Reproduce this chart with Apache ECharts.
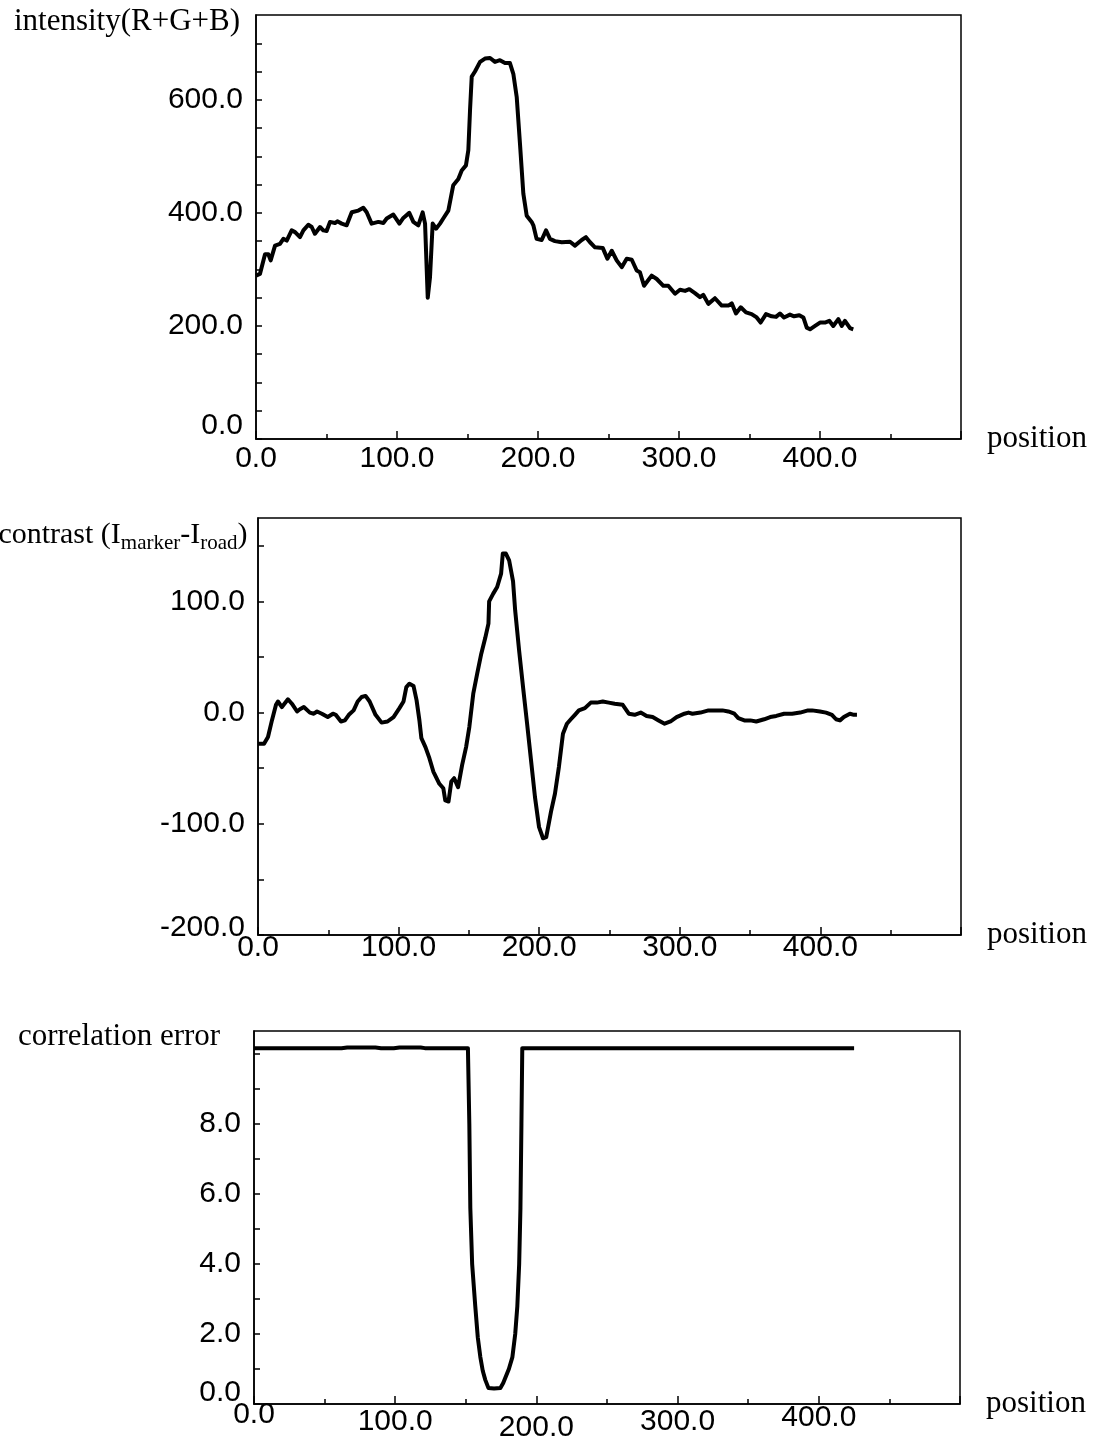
<!DOCTYPE html>
<html>
<head>
<meta charset="utf-8">
<script src="https://cdn.jsdelivr.net/npm/echarts@6/dist/echarts.min.js"></script>
<style>
  html, body { margin: 0; padding: 0; background: #fff; }
  #chart { width: 1097px; height: 1442px; }
</style>
</head>
<body>
<div id="chart"></div>
<script>
// intensity (R+G+B) profile
const intensityPos = [0, 2.8, 6.4, 8.7, 10.4, 13.5, 17, 19.4, 21.8, 25.3, 27.7, 31.2, 33.6, 37.1, 39.5, 41.8, 45.4, 47.7, 50.1, 52.5,
  56, 57.7, 60.8, 64.3, 67.9, 72.6, 76.1, 78.5, 82, 86.8, 90.3, 92.7, 97.4, 101.7, 104.5, 108.7, 111.6, 115.1, 118.2, 119.9,
  121.8, 123.4, 125.3, 127.7, 130.5, 132.8, 136.4, 139.9, 143.5, 145.9, 148.9, 150.6, 151.8, 153, 155.3, 158.9, 162.4, 166, 169.5, 173,
  176.6, 180.1, 182.5, 184.9, 187.2, 189.6, 192, 195.5, 196.7, 199, 202.6, 205.7, 208.5, 212, 216.8, 222.7, 226.2, 231, 234, 236.9,
  240.4, 245.9, 249.2, 252.3, 255.8, 259.4, 262.9, 266.5, 270, 272.3, 275.2, 280.6, 284.2, 288.9, 292.4, 297.2, 300.7, 304.3, 307.3, 311.3,
  314.9, 317.2, 320.8, 325.5, 330.3, 335, 337.4, 340.4, 343.8, 347.5, 351.5, 355.1, 357.9, 361.7, 365.7, 368.8, 371.6, 374.5, 378.7, 381.6,
  385.3, 388.2, 390.6, 392.9, 396.5, 400, 403.5, 406.6, 409.4, 413, 415.4, 417.7, 421.3, 423.6];
const intensityVal = [289, 292, 327, 327, 316, 342, 345, 354, 351, 369, 366, 357, 369, 379, 375, 363, 375, 369, 368, 384,
  382, 385, 381, 378, 401, 404, 409, 401, 381, 384, 382, 390, 397, 381, 391, 400, 384, 378, 401, 381,
  250, 286, 381, 372, 381, 390, 404, 449, 460, 475, 484, 511, 582, 641, 650, 667, 673, 674, 667, 670,
  665, 665, 646, 605, 523, 434, 395, 384, 378, 354, 352, 369, 354, 350, 348, 349, 342, 352, 357, 348,
  339, 338, 319, 333, 316, 304, 319, 317, 298, 295, 271, 289, 283, 271, 271, 257, 264, 262, 265, 258,
  251, 255, 239, 249, 236, 236, 240, 222, 233, 224, 221, 215, 206, 221, 217, 216, 222, 215, 220, 217,
  219, 215, 197, 194, 200, 206, 206, 209, 200, 212, 200, 209, 196, 194];

// contrast (I_marker - I_road)
const contrastPos = [0, 4.3, 7.1, 9.9, 12.8, 14.2, 17, 21.3, 24.1, 27.8, 29.8, 32.6, 36.9, 39.7, 42, 45.4, 49.6, 53.3, 55.3, 59,
  61.8, 64.6, 68, 70.9, 73.7, 76.5, 79.4, 83.6, 87.9, 92.1, 96.4, 100.6, 103.5, 105.5, 107.7, 110.6, 112.8, 114.8, 116.2, 119.1,
  121.9, 124.7, 129, 131.8, 133.2, 135.5, 137.5, 139.5, 142.3, 145.2, 148, 150.3, 153.1, 155.9, 158.8, 161.6, 163.9, 164.4, 167.3, 170.1,
  172.9, 174.1, 176.3, 178.6, 181.4, 182.9, 185.7, 188.5, 191.4, 194.2, 197, 199.9, 202.7, 205, 208.4, 211.2, 214, 216.9, 219.7, 222.5,
  225.4, 228.2, 232.5, 236.7, 241, 245.2, 249.5, 253.7, 259.4, 263.7, 267.9, 272.2, 276.4, 280.7, 284.9, 289.2, 293.4, 297.7, 303.3, 306.2,
  309, 314.7, 320.4, 324.6, 330.3, 334.5, 338.8, 341.6, 345.9, 350.1, 354.4, 360, 364.3, 368.6, 374.2, 379.9, 385.6, 391.2, 394.1, 399.7,
  404, 408.2, 411.1, 413.9, 416.7, 421, 423.8, 426];
const contrastVal = [-28, -28, -22, -7, 7, 10, 5, 12, 8, 1, 3, 5, 0, -1, 1, -1, -4, -1, -2, -8,
  -7, -2, 2, 10, 14, 15, 10, -2, -9, -8, -4, 4, 10, 23, 26, 24, 11, -7, -23, -31,
  -41, -53, -64, -68, -79, -80, -62, -59, -67, -47, -31, -13, 17, 35, 53, 67, 80, 100, 107, 113,
  125, 143, 143, 137, 118, 92, 56, 23, -10, -43, -76, -103, -113, -112, -89, -73, -49, -19, -10, -6,
  -2, 2, 4, 9, 9, 10, 9, 8, 7, -1, -2, 0, -3, -4, -7, -10, -8, -4, -1, 0,
  -1, 0, 2, 2, 2, 1, -1, -5, -7, -7, -8, -6, -4, -3, -1, -1, 0, 2, 2, 1,
  0, -2, -6, -7, -4, -1, -2, -2];

// correlation error
const errorPos = [0, 62, 66, 86, 90, 99, 103, 118, 121, 151.5, 152.5, 153.2, 154.5, 156.7, 158.5, 160.3, 162, 163.8, 166, 170,
  174.5, 176.5, 178, 180.5, 183, 185, 186.5, 187.8, 188.7, 189.4, 190, 425];
const errorVal = [10.17, 10.17, 10.19, 10.19, 10.17, 10.17, 10.19, 10.19, 10.17, 10.17, 8.0, 5.6, 4.0, 2.8, 1.9, 1.34, 0.95, 0.69, 0.46, 0.44,
  0.46, 0.6, 0.75, 1.0, 1.34, 2.0, 2.8, 4.0, 5.6, 8.0, 10.17, 10.17];

// tick labels that are printed
const positionLabels = [0, 100, 200, 300, 400];
const intensityLabels = [0, 200, 400, 600];
const contrastLabels = [-200, -100, 0, 100];
const errorLabels = [0, 2, 4, 6, 8];

function zip(xs, ys) {
  return xs.map(function (x, i) { return [x, ys[i]]; });
}

const tickFont = { fontFamily: 'Liberation Sans', fontSize: 30, color: '#000' };
const serif = 'Liberation Serif';

function xAxisFor(gi, nameShift, margin, stagger) {
  return {
    type: 'value', gridIndex: gi, min: 0, max: 500, interval: 100,
    name: 'position', nameLocation: 'end', nameGap: 26,
    nameTextStyle: { fontFamily: serif, fontSize: 31, color: '#000', align: 'left', verticalAlign: 'middle', padding: [0, 0, nameShift, 0] },
    axisLine: { show: true, onZero: false, lineStyle: { color: '#000', width: 1.5 } },
    axisTick: { show: true, inside: true, length: 8, lineStyle: { color: '#000', width: 1.5 } },
    minorTick: { show: true, splitNumber: 2, length: 5, lineStyle: { color: '#000', width: 1.5 } },
    splitLine: { show: false }, minorSplitLine: { show: false },
    axisLabel: Object.assign({}, tickFont, {
      margin: margin, showMaxLabel: false,
      formatter: function (v) {
        if (positionLabels.indexOf(v) < 0) return '';
        return stagger ? '{s' + stagger[positionLabels.indexOf(v)] + '|' + v.toFixed(1) + '}' : v.toFixed(1);
      },
      rich: { s0: { padding: [0, 0, 0, 0] }, s3: { padding: [3, 0, 0, 0] }, s7: { padding: [7, 0, 0, 0] }, s13: { padding: [13, 0, 0, 0] } }
    })
  };
}

function yAxisFor(gi, min, max, interval, labels, lowShift) {
  return {
    type: 'value', gridIndex: gi, min: min, max: max, interval: interval,
    axisLine: { show: true, onZero: false, lineStyle: { color: '#000', width: 1.5 } },
    axisTick: { show: true, inside: true, length: 6, lineStyle: { color: '#000', width: 1.5 } },
    splitLine: { show: false },
    axisLabel: Object.assign({}, tickFont, {
      margin: 13, showMaxLabel: false,
      formatter: function (v) {
        if (labels.indexOf(v) < 0) return '';
        return v === min ? '{low|' + v.toFixed(1) + '}' : v.toFixed(1);
      },
      rich: { low: { padding: [0, 0, lowShift, 0] } }
    })
  };
}

function lineSeries(gi, data) {
  return {
    type: 'line', xAxisIndex: gi, yAxisIndex: gi, data: data,
    showSymbol: false, symbol: 'none', animation: false,
    lineStyle: { color: '#000', width: 4, join: 'round' }
  };
}

const frame = { show: true, borderColor: '#000', borderWidth: 1.5, backgroundColor: 'transparent', outerBoundsMode: 'none', containLabel: false };

const option = {
  animation: false,
  backgroundColor: '#fff',
  grid: [
    Object.assign({ left: 256, top: 15, width: 705, height: 424 }, frame),
    Object.assign({ left: 258, top: 518, width: 703, height: 417 }, frame),
    Object.assign({ left: 254, top: 1031, width: 706, height: 373 }, frame)
  ],
  xAxis: [
    xAxisFor(0, 18, 5, null),
    xAxisFor(1, 8, -2, null),
    xAxisFor(2, 22, -4, [0, 7, 13, 7, 3])
  ],
  yAxis: [
    yAxisFor(0, 0, 750, 50, intensityLabels, 26),
    yAxisFor(1, -200, 175, 50, contrastLabels, 14),
    yAxisFor(2, 0, 10.66, 1, errorLabels, 22)
  ],
  graphic: [
    { type: 'text', x: 127, y: 22, style: { text: 'intensity(R+G+B)', fontFamily: serif, fontSize: 31, fill: '#000', align: 'center', verticalAlign: 'middle' } },
    { type: 'text', x: 123, y: 535, style: {
        text: '{n|contrast (I}{s|marker}{n|-I}{s|road}{n|)}', align: 'center', verticalAlign: 'middle',
        rich: {
          n: { fontFamily: serif, fontSize: 30, lineHeight: 38, fill: '#000' },
          s: { fontFamily: serif, fontSize: 21, lineHeight: 21, verticalAlign: 'bottom', fill: '#000' }
        } } },
    { type: 'text', x: 119, y: 1037, style: { text: 'correlation error', fontFamily: serif, fontSize: 31, fill: '#000', align: 'center', verticalAlign: 'middle' } }
  ],
  series: [
    lineSeries(0, zip(intensityPos, intensityVal)),
    lineSeries(1, zip(contrastPos, contrastVal)),
    lineSeries(2, zip(errorPos, errorVal))
  ]
};

const chart = echarts.init(document.getElementById('chart'));
chart.setOption(option);
</script>
</body>
</html>
